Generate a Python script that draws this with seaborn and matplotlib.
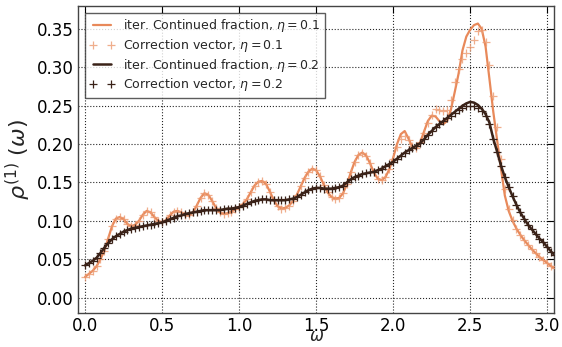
import numpy as np
import pandas as pd
import matplotlib
matplotlib.use("Agg")
import matplotlib.pyplot as plt
import seaborn as sns

# frequency grid (step 0.025)
omega = np.round(np.arange(0, 123) * 0.025, 3)

cf_eta01 = [
    0.027, 0.031, 0.035, 0.041, 0.050, 0.061, 0.077, 0.093, 0.103, 0.105,
    0.102, 0.096, 0.093, 0.095, 0.100, 0.108, 0.113, 0.111, 0.105, 0.100,
    0.098, 0.101, 0.107, 0.112, 0.113, 0.111, 0.107, 0.107, 0.111, 0.120,
    0.130, 0.136, 0.134, 0.126, 0.117, 0.111, 0.109, 0.110, 0.112, 0.115,
    0.118, 0.122, 0.128, 0.137, 0.146, 0.151, 0.152, 0.148, 0.138, 0.127,
    0.119, 0.116, 0.117, 0.120, 0.126, 0.134, 0.145, 0.156, 0.164, 0.168,
    0.166, 0.158, 0.147, 0.137, 0.131, 0.129, 0.130, 0.136, 0.148, 0.163,
    0.177, 0.186, 0.189, 0.185, 0.175, 0.163, 0.155, 0.153, 0.157, 0.167,
    0.182, 0.200, 0.213, 0.217, 0.207, 0.196, 0.194, 0.202, 0.216, 0.230,
    0.237, 0.236, 0.230, 0.226, 0.230, 0.245, 0.268, 0.292, 0.322, 0.340,
    0.349, 0.355, 0.357, 0.350, 0.327, 0.285, 0.242, 0.205, 0.168, 0.133,
    0.113, 0.100, 0.090, 0.082, 0.075, 0.069, 0.063, 0.058, 0.053, 0.049,
    0.045, 0.041, 0.038,
]

cv_eta01 = [
    0.027, 0.031, 0.035, 0.041, 0.050, 0.061, 0.077, 0.093, 0.103, 0.105,
    0.102, 0.096, 0.093, 0.095, 0.100, 0.108, 0.113, 0.111, 0.105, 0.100,
    0.098, 0.101, 0.107, 0.112, 0.113, 0.111, 0.107, 0.107, 0.111, 0.120,
    0.130, 0.136, 0.134, 0.126, 0.117, 0.111, 0.109, 0.110, 0.112, 0.115,
    0.118, 0.122, 0.128, 0.137, 0.146, 0.151, 0.152, 0.148, 0.138, 0.127,
    0.119, 0.116, 0.117, 0.120, 0.126, 0.134, 0.145, 0.156, 0.164, 0.168,
    0.166, 0.158, 0.147, 0.137, 0.131, 0.129, 0.130, 0.136, 0.148, 0.163,
    0.177, 0.186, 0.189, 0.185, 0.175, 0.163, 0.155, 0.153, 0.157, 0.167,
    0.180, 0.196, 0.207, 0.210, 0.205, 0.197, 0.195, 0.203, 0.215, 0.228,
    0.238, 0.246, 0.244, 0.243, 0.245, 0.257, 0.281, 0.298, 0.311, 0.318,
    0.326, 0.336, 0.347, 0.349, 0.333, 0.303, 0.262, 0.222, 0.180, 0.142,
    0.116, 0.101, 0.090, 0.082, 0.075, 0.069, 0.063, 0.058, 0.053, 0.049,
    0.045, 0.041, 0.038,
]

cf_eta02 = [
    0.042, 0.045, 0.048, 0.052, 0.058, 0.065, 0.071, 0.076, 0.080, 0.083,
    0.086, 0.088, 0.090, 0.091, 0.092, 0.093, 0.094, 0.095, 0.096, 0.097,
    0.098, 0.100, 0.102, 0.104, 0.106, 0.107, 0.109, 0.110, 0.111, 0.112,
    0.113, 0.114, 0.114, 0.114, 0.114, 0.114, 0.115, 0.116, 0.116, 0.117,
    0.118, 0.120, 0.122, 0.124, 0.126, 0.127, 0.128, 0.128, 0.127, 0.127,
    0.127, 0.127, 0.127, 0.128, 0.129, 0.131, 0.134, 0.137, 0.140, 0.142,
    0.143, 0.143, 0.142, 0.142, 0.142, 0.143, 0.144, 0.146, 0.150, 0.154,
    0.157, 0.159, 0.161, 0.162, 0.163, 0.164, 0.166, 0.168, 0.171, 0.174,
    0.177, 0.181, 0.185, 0.189, 0.192, 0.195, 0.198, 0.201, 0.206, 0.212,
    0.217, 0.222, 0.226, 0.230, 0.234, 0.238, 0.242, 0.246, 0.250, 0.253,
    0.255, 0.254, 0.251, 0.246, 0.239, 0.228, 0.207, 0.190, 0.172, 0.157,
    0.144, 0.132, 0.121, 0.111, 0.103, 0.095, 0.089, 0.083, 0.077, 0.072,
    0.066, 0.060, 0.055,
]

cv_eta02 = [
    0.042, 0.045, 0.048, 0.052, 0.058, 0.065, 0.071, 0.076, 0.080, 0.083,
    0.086, 0.088, 0.090, 0.091, 0.092, 0.093, 0.094, 0.095, 0.096, 0.097,
    0.098, 0.100, 0.102, 0.104, 0.106, 0.107, 0.109, 0.110, 0.111, 0.112,
    0.113, 0.114, 0.114, 0.114, 0.114, 0.114, 0.115, 0.116, 0.116, 0.117,
    0.118, 0.120, 0.122, 0.124, 0.126, 0.127, 0.128, 0.128, 0.127, 0.127,
    0.127, 0.127, 0.127, 0.128, 0.129, 0.131, 0.134, 0.137, 0.140, 0.142,
    0.143, 0.143, 0.142, 0.142, 0.142, 0.143, 0.144, 0.146, 0.150, 0.154,
    0.157, 0.159, 0.161, 0.162, 0.163, 0.164, 0.166, 0.168, 0.171, 0.174,
    0.177, 0.181, 0.185, 0.189, 0.192, 0.195, 0.198, 0.201, 0.206, 0.212,
    0.217, 0.222, 0.226, 0.230, 0.234, 0.237, 0.241, 0.244, 0.247, 0.249,
    0.250, 0.249, 0.247, 0.243, 0.237, 0.226, 0.207, 0.190, 0.172, 0.157,
    0.144, 0.132, 0.121, 0.111, 0.103, 0.095, 0.089, 0.083, 0.077, 0.072,
    0.066, 0.060, 0.055,
]

labels = [
    r"iter. Continued fraction, $\eta=0.1$",
    r"Correction vector, $\eta=0.1$",
    r"iter. Continued fraction, $\eta=0.2$",
    r"Correction vector, $\eta=0.2$",
]
xticks = [0.0, 0.5, 1.0, 1.5, 2.0, 2.5, 3.0]
yticks = [0.00, 0.05, 0.10, 0.15, 0.20, 0.25, 0.30, 0.35]

orange = "#e8895a"
orange_m = "#ec9a70"
dark = "#3a2218"

sns.set_style("white")
plt.rcParams["font.family"] = ["DejaVu Sans"]
plt.rcParams["mathtext.fontset"] = "dejavusans"

fig = plt.figure(figsize=(5.62, 3.47), dpi=100)
ax = fig.add_axes([0.139, 0.098, 0.847, 0.885])

df = pd.DataFrame({"omega": omega, "cf1": cf_eta01, "cv1": cv_eta01,
                   "cf2": cf_eta02, "cv2": cv_eta02})

sns.lineplot(data=df, x="omega", y="cf1", ax=ax, color=orange, lw=1.6,
             label=labels[0], zorder=3)
sns.lineplot(data=df, x="omega", y="cv1", ax=ax, color=orange_m, ls="",
             marker="+", markersize=6, markeredgewidth=0.9,
             markeredgecolor=orange_m, alpha=0.8,
             label=labels[1], zorder=3)
sns.lineplot(data=df, x="omega", y="cf2", ax=ax, color=dark, lw=1.8,
             label=labels[2], zorder=4)
sns.lineplot(data=df, x="omega", y="cv2", ax=ax, color=dark, ls="",
             marker="+", markersize=6, markeredgewidth=0.9,
             markeredgecolor=dark,
             label=labels[3], zorder=4)

ax.set_xlim(-0.045, 3.045)
ax.set_ylim(-0.02, 0.38)
ax.set_xticks(xticks)
ax.set_xticklabels([f"{t:.1f}" for t in xticks])
ax.set_yticks(yticks)
ax.set_yticklabels([f"{t:.2f}" for t in yticks])
ax.tick_params(direction="in", length=5, width=0.8, labelsize=12,
               top=True, right=True, colors="black", pad=3)
ax.grid(True, ls=":", color="black", lw=0.8, alpha=0.85)
for s in ax.spines.values():
    s.set_color("#444444")
    s.set_linewidth(1.0)

ax.set_xlabel(r"$\omega$", fontsize=12, labelpad=-6)
ax.set_ylabel(r"$\rho^{(1)}\ (\omega)$", fontsize=16, labelpad=3)

leg = ax.legend(loc="upper left", fontsize=9, numpoints=2, frameon=True,
                fancybox=False, handlelength=2.0, handletextpad=0.7,
                borderpad=0.35, labelspacing=0.22,
                bbox_to_anchor=(0.0, 1.0), borderaxespad=0.55)
leg.get_frame().set_edgecolor("#333333")
leg.get_frame().set_linewidth(1.0)

fig.savefig("out.png", dpi=100)
